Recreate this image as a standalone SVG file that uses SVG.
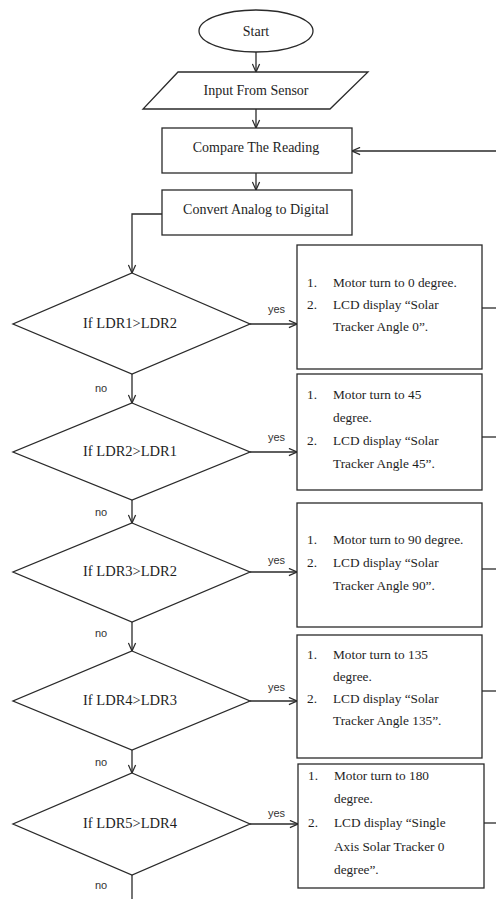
<svg xmlns="http://www.w3.org/2000/svg" width="496" height="899" viewBox="0 0 496 899">
<style>
.shape{fill:#fff;stroke:#2a2a2a;stroke-width:1.3}
.ln{fill:none;stroke:#2a2a2a;stroke-width:1.3}
.arr{marker-end:url(#ah)}
.t{font-family:"Liberation Serif","Times New Roman",serif;font-size:14px;fill:#1e1e1e;text-anchor:middle}
.d{font-family:"Liberation Serif","Times New Roman",serif;font-size:14.5px;fill:#1e1e1e;text-anchor:middle}
.b{font-family:"Liberation Serif","Times New Roman",serif;font-size:13.3px;fill:#1e1e1e}
.l{font-family:"Liberation Sans",Arial,sans-serif;font-size:11px;fill:#333}
</style>
<defs>
<marker id="ah" viewBox="0 0 10 10" refX="10" refY="5" markerWidth="9" markerHeight="9" markerUnits="userSpaceOnUse" orient="auto">
<path d="M1,1 L10,5 L1,9" fill="none" stroke="#2a2a2a" stroke-width="1.4"/>
</marker>
</defs>
<rect width="496" height="899" fill="#fff"/>

<g id="connectors">
<line class="ln arr" x1="256" y1="52" x2="256" y2="72"/>
<line class="ln arr" x1="256" y1="109" x2="256" y2="128"/>
<line class="ln arr" x1="256" y1="173" x2="256" y2="190"/>
<line class="ln arr" x1="496" y1="151" x2="352" y2="151"/>
<polyline class="ln arr" points="162,214 132,214 132,273"/>
<line class="ln arr" x1="250" y1="324" x2="297" y2="324"/>
<line class="ln arr" x1="250" y1="452" x2="297" y2="452"/>
<line class="ln arr" x1="250" y1="572" x2="297" y2="572"/>
<line class="ln arr" x1="250" y1="701" x2="297" y2="701"/>
<line class="ln arr" x1="250" y1="824" x2="298" y2="824"/>
<line class="ln arr" x1="132" y1="374" x2="132" y2="403"/>
<line class="ln arr" x1="132" y1="500" x2="132" y2="523"/>
<line class="ln arr" x1="132" y1="622" x2="132" y2="651"/>
<line class="ln arr" x1="132" y1="750" x2="132" y2="773"/>
<line class="ln" x1="132" y1="875" x2="132" y2="899"/>
<line class="ln" x1="482" y1="308" x2="496" y2="308"/>
<line class="ln" x1="482" y1="437" x2="496" y2="437"/>
<line class="ln" x1="482" y1="569" x2="496" y2="569"/>
<line class="ln" x1="482" y1="691" x2="496" y2="691"/>
<line class="ln" x1="484" y1="823" x2="496" y2="823"/>
<text class="l" x="268" y="313">yes</text>
<text class="l" x="268" y="441">yes</text>
<text class="l" x="268" y="564">yes</text>
<text class="l" x="268" y="691">yes</text>
<text class="l" x="268" y="817">yes</text>
<text class="l" x="95" y="392">no</text>
<text class="l" x="95" y="516">no</text>
<text class="l" x="95" y="637">no</text>
<text class="l" x="95" y="766">no</text>
<text class="l" x="95" y="889">no</text>
</g>

<g id="start">
<ellipse class="shape" cx="256" cy="31" rx="57" ry="21"/>
<text class="t" x="256" y="36">Start</text>
</g>
<g id="input">
<polygon class="shape" points="178,72 368,72 330,109 143,109"/>
<text class="t" x="256" y="95">Input From Sensor</text>
</g>
<g id="compare">
<rect class="shape" x="162" y="128" width="190" height="45"/>
<text class="t" x="256" y="152">Compare The Reading</text>
</g>
<g id="convert">
<rect class="shape" x="162" y="190" width="190" height="45"/>
<text class="t" x="256" y="214">Convert Analog to Digital</text>
</g>

<g id="dec1">
<polygon class="shape" points="132,273 250,324 132,374 13,324"/>
<text class="d" x="130" y="328">If LDR1&gt;LDR2</text>
</g>
<g id="dec2">
<polygon class="shape" points="132,403 250,452 132,500 13,452"/>
<text class="d" x="130" y="456">If LDR2&gt;LDR1</text>
</g>
<g id="dec3">
<polygon class="shape" points="132,523 250,572 132,622 13,572"/>
<text class="d" x="130" y="576">If LDR3&gt;LDR2</text>
</g>
<g id="dec4">
<polygon class="shape" points="132,651 250,701 132,750 13,701"/>
<text class="d" x="130" y="705">If LDR4&gt;LDR3</text>
</g>
<g id="dec5">
<polygon class="shape" points="132,773 250,824 132,875 13,824"/>
<text class="d" x="130" y="828">If LDR5&gt;LDR4</text>
</g>

<g id="act1">
<rect class="shape" x="297" y="245" width="185" height="124"/>
<text class="b" x="307" y="287">1.</text><text class="b" x="333" y="287">Motor turn to 0 degree.</text>
<text class="b" x="307" y="309">2.</text><text class="b" x="333" y="309">LCD display “Solar</text>
<text class="b" x="333" y="331">Tracker Angle 0”.</text>
</g>
<g id="act2">
<rect class="shape" x="297" y="374" width="185" height="116"/>
<text class="b" x="307" y="399">1.</text><text class="b" x="333" y="399">Motor turn to 45</text>
<text class="b" x="333" y="422">degree.</text>
<text class="b" x="307" y="445">2.</text><text class="b" x="333" y="445">LCD display “Solar</text>
<text class="b" x="333" y="468">Tracker Angle 45”.</text>
</g>
<g id="act3">
<rect class="shape" x="297" y="503" width="185" height="124"/>
<text class="b" x="307" y="544">1.</text><text class="b" x="333" y="544">Motor turn to 90 degree.</text>
<text class="b" x="307" y="567">2.</text><text class="b" x="333" y="567">LCD display “Solar</text>
<text class="b" x="333" y="590">Tracker Angle 90”.</text>
</g>
<g id="act4">
<rect class="shape" x="297" y="635" width="185" height="123"/>
<text class="b" x="307" y="659">1.</text><text class="b" x="333" y="659">Motor turn to 135</text>
<text class="b" x="333" y="681">degree.</text>
<text class="b" x="307" y="703">2.</text><text class="b" x="333" y="703">LCD display “Solar</text>
<text class="b" x="333" y="725">Tracker Angle 135”.</text>
</g>
<g id="act5">
<rect class="shape" x="298" y="764" width="186" height="124"/>
<text class="b" x="308" y="780">1.</text><text class="b" x="334" y="780">Motor turn to 180</text>
<text class="b" x="334" y="803">degree.</text>
<text class="b" x="308" y="827">2.</text><text class="b" x="334" y="827">LCD display “Single</text>
<text class="b" x="334" y="851">Axis Solar Tracker 0</text>
<text class="b" x="334" y="874">degree”.</text>
</g>
</svg>
